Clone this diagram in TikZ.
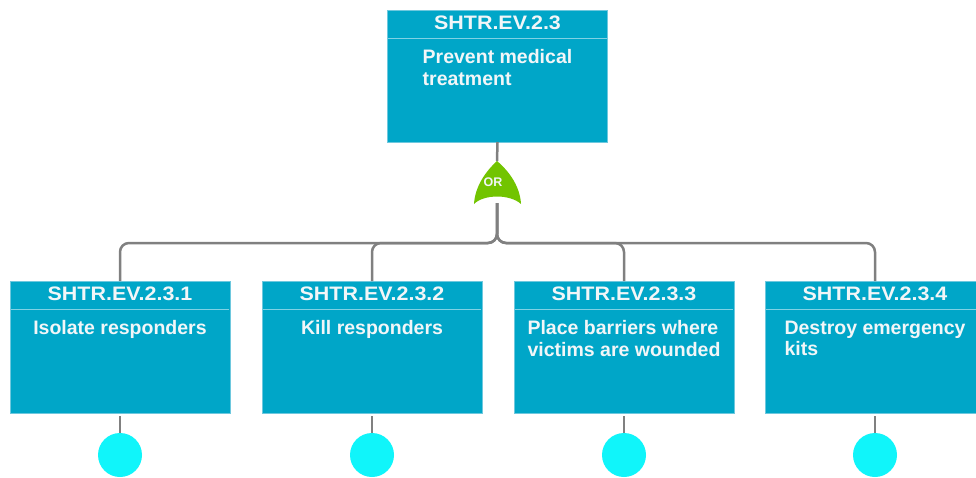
\documentclass[tikz,border=0pt]{standalone}
\usepackage{fontspec}
\setmainfont{Liberation Sans}
\usetikzlibrary{calc}
\definecolor{boxfill}{RGB}{0,166,200}
\definecolor{boxedge}{RGB}{110,200,222}
\definecolor{divline}{RGB}{128,210,228}
\definecolor{wire}{RGB}{128,128,128}
\definecolor{gatefill}{RGB}{114,196,0}
\definecolor{leaf}{RGB}{16,245,250}
\definecolor{txt}{RGB}{242,246,248}
\newcommand{\widehdr}[1]{\scalebox{1.1}[1]{#1}}
\tikzset{
  evbox/.style={draw=boxedge, line width=0.8pt, fill=boxfill, minimum width=220, minimum height=132, inner sep=0, outer sep=0},
  hdr/.style={text=txt, font={\bfseries\fontsize{19.5}{21.5}\selectfont}, inner sep=0, anchor=base},
  bodytext/.style={text=txt, font={\bfseries\fontsize{19.5}{21.5}\selectfont}, inner sep=0, align=left, anchor=north},
  divider/.style={draw=divline, line width=1pt},
  wireline/.style={draw=wire, line width=2.5pt, rounded corners=9},
  leafnode/.style={circle, fill=leaf, minimum size=44, inner sep=0},
}
\begin{document}
\begin{tikzpicture}[x=1pt, y=-1pt]
\useasboundingbox (0,0) rectangle (976,477);
\clip (0,0) rectangle (976,477);
\fill[white] (0,0) rectangle (976,477);

% event boxes
\node[evbox] (top) at (497.5,76) {};
\node[evbox] (b1) at (120,347) {};
\node[evbox] (b2) at (372,347) {};
\node[evbox] (b3) at (624,347) {};
\node[evbox] (b4) at (875,347) {};

% header dividers, identifiers and descriptions
\foreach \b/\id/\desc in {top/SHTR.EV.2.3/{Prevent medical\\treatment},
                          b1/SHTR.EV.2.3.1/{Isolate responders},
                          b2/SHTR.EV.2.3.2/{Kill responders},
                          b3/SHTR.EV.2.3.3/{Place barriers where\\victims are wounded},
                          b4/SHTR.EV.2.3.4/{Destroy emergency\\kits}}{
  \draw[divider] ($(\b.north west)+(0.8,28.5)$) -- ($(\b.north east)+(-0.8,28.5)$);
  \node[hdr] (\b-id) at ($(\b.north)+(0,19.5)$) {\widehdr{\id}};
  \node[bodytext] (\b-txt) at ($(\b.north)+(0,39.5)$) {\desc};
}

% OR gate
\coordinate (gtop) at (497,161);
\coordinate (gbot) at (497,197);
\fill[gatefill] (gtop) .. controls (510,172) and (520,187) .. (521,204)
  .. controls (510,194) and (484,194) .. (474,204)
  .. controls (475,187) and (485,172) .. (gtop) -- cycle;
\node[text=txt, font={\bfseries\fontsize{12.5}{13}\selectfont}, inner sep=0] (orlabel) at (493,182) {OR};

% connectors
\draw[wireline] (top.south) -- (gtop);
\coordinate (bus) at (497,243);
\foreach \b in {b1,b2,b3,b4}{
  \draw[wireline] ($(gbot)+(0,6)$) -- (bus) -| (\b.north);
}

% basic events below the boxes
\foreach \b in {b1,b2,b3,b4}{
  \node[leafnode] (\b-leaf) at ($(\b.south)+(0,42)$) {};
  \draw[draw=wire, line width=2.5pt] (\b.south) ++(0,3) -- (\b-leaf.north);
}
\end{tikzpicture}
\end{document}
